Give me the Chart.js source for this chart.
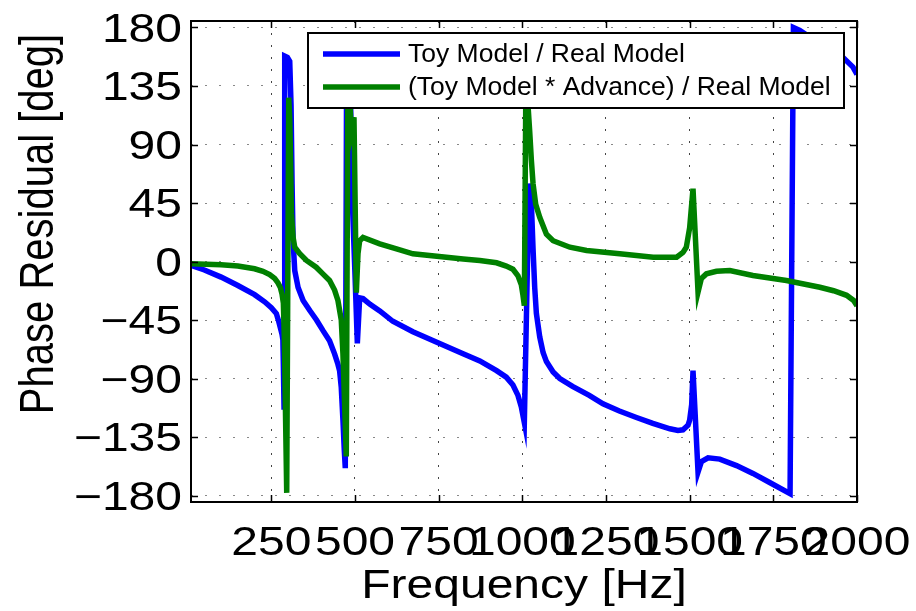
<!DOCTYPE html>
<html>
<head>
<meta charset="utf-8">
<script src="https://cdn.jsdelivr.net/npm/chart.js@4.4.0/dist/chart.umd.min.js"></script>
<style>
    html, body { margin: 0; padding: 0; background: #ffffff; }
    #wrap { width: 916px; height: 611px; }
</style>
</head>
<body>
<div id="wrap"><canvas id="phaseChart" width="916" height="611"></canvas></div>
<script>
// Phase residual curves
const toyFreq = [10, 50, 100, 150, 200, 230, 250, 265, 272, 278, 282, 284.5, 286, 288, 290, 298, 305, 309, 312, 315, 320,
    330, 345, 365, 385, 404, 424, 439, 449, 454, 459, 464, 468, 471, 475, 487, 492, 500, 507, 514, 524, 545, 574, 613,
    673, 753, 823, 873, 923, 952, 972, 987, 997, 1003, 1006, 1020, 1027, 1032, 1037, 1042, 1052, 1062, 1072, 1092, 1112,
    1150, 1200, 1241, 1290, 1341, 1390, 1441, 1465, 1480, 1495, 1500, 1506, 1510, 1525, 1535, 1555, 1590, 1640, 1689,
    1739, 1800, 1810, 1829, 1889, 1958, 1988, 2000];
const toyPhase = [-3, -6.5, -12, -18.5, -25.5, -31, -35.5, -40, -46, -52, -56, -60, -80, -112, 158, 157, 154, 120, 60, 16, -7,
    -20, -30, -37.7, -45, -53, -61, -71, -79, -84, -97, -122, -145, -159, 150, 120, 47, -10, -63, -28, -28.5, -33, -38, -46,
    -54, -63, -71, -76.5, -84, -89, -95, -103, -112, -120, -124, 60, 45, 10, -20, -40, -58, -70, -77, -85, -90,
    -96, -103, -109.5, -115, -120, -124.5, -128.7, -130, -129.5, -126, -122, -110, -84, -162, -154, -151, -152, -157, -163,
    -170, -178.5, 180, 177.7, 167.5, 157, 149.5, 144];

const advFreq = [10, 100, 150, 200, 225, 245, 260, 270, 277, 282, 286, 289, 296, 302, 305, 308, 310, 315, 320, 335, 355,
    384, 404, 424, 439, 449, 459, 464, 469, 474, 479, 489, 497, 504, 509, 514, 524, 574, 624, 673, 773, 823, 873, 923,
    952, 972, 987, 997, 1002, 1006, 1011, 1017, 1022, 1027, 1032, 1040, 1052, 1072, 1092, 1142, 1192, 1291, 1391, 1461,
    1480, 1490, 1500, 1510, 1525, 1535, 1550, 1580, 1620, 1689, 1789, 1889, 1930, 1969, 1990, 2000];
const advPhase = [-1.8, -2.5, -3.5, -5.6, -7.5, -10, -13, -16.5, -20, -25, -32, -60, -178, 126, 110, 70, 37, 18.7, 11, 6, 0.8,
    -4.4, -9.5, -14.6, -22, -30, -45, -71, -109.5, -150, 150, 100, 111, -24, 6, 16, 18.5, 13.6, 9.7, 5.9, 3.3, 2, 0.8, -1,
    -3.5, -6, -11, -18, -26, -34, 150, 120, 100, 78, 60, 44, 34, 21, 16, 11, 8.5, 6, 3.3, 3.3,
    7, 11, 26, 56, -23.6, -13, -9.5, -7.5, -7, -10.8, -14.6, -19.8, -22.5, -26, -30, -34];

const xTicks = [250, 500, 750, 1000, 1250, 1500, 1750, 2000];
const yTicks = [-180, -135, -90, -45, 0, 45, 90, 135, 180];
const seriesLabels = ['Toy Model / Real Model', '(Toy Model * Advance) / Real Model'];
const seriesColors = ['#0000ff', '#008000'];

const FONT = "'Liberation Sans', Arial, sans-serif";
const SX = 1.2; // the original text is a bit wider than it is tall

function toPoints(xs, ys) {
    return xs.map((x, i) => ({ x: x, y: ys[i] }));
}

function stretchedText(ctx, text, x, y, align) {
    ctx.save();
    ctx.translate(x, y);
    ctx.scale(SX, 1);
    ctx.textAlign = align;
    ctx.fillText(text, 0, 0);
    ctx.restore();
}

// axes box, inward ticks, tick labels, titles and the boxed legend
const matlabAxes = {
    id: 'matlabAxes',
    beforeDraw(chart) {
        const ctx = chart.ctx;
        ctx.save();
        ctx.fillStyle = '#ffffff';
        ctx.fillRect(0, 0, chart.width, chart.height);
        ctx.restore();
    },
    afterDraw(chart) {
        const ctx = chart.ctx;
        const a = chart.chartArea;
        const xs = chart.scales.x;
        const ys = chart.scales.y;

        ctx.save();
        ctx.strokeStyle = '#000000';
        ctx.lineWidth = 1.5;
        ctx.beginPath();
        xTicks.forEach(v => {
            const px = Math.round(xs.getPixelForValue(v)) + 0.5;
            ctx.moveTo(px, a.bottom); ctx.lineTo(px, a.bottom - 7);
            ctx.moveTo(px, a.top); ctx.lineTo(px, a.top + 7);
        });
        yTicks.forEach(v => {
            const py = Math.round(ys.getPixelForValue(v)) + 0.5;
            ctx.moveTo(a.left, py); ctx.lineTo(a.left + 7, py);
            ctx.moveTo(a.right, py); ctx.lineTo(a.right - 7, py);
        });
        ctx.stroke();
        ctx.lineWidth = 2;
        ctx.strokeRect(a.left, a.top, a.right - a.left, a.bottom - a.top);

        // tick labels
        ctx.fillStyle = '#000000';
        ctx.font = '40px ' + FONT;
        ctx.textBaseline = 'alphabetic';
        yTicks.forEach(v => {
            const label = String(v).replace('-', '\u2212');
            stretchedText(ctx, label, 182, ys.getPixelForValue(v) + 14, 'right');
        });
        xTicks.forEach(v => {
            stretchedText(ctx, String(v), xs.getPixelForValue(v), 555, 'center');
        });

        // axis titles
        stretchedText(ctx, 'Frequency [Hz]', (a.left + a.right) / 2, 598, 'center');
        ctx.save();
        ctx.translate(53, 224);
        ctx.scale(SX, 1);
        ctx.rotate(-Math.PI / 2);
        ctx.textAlign = 'center';
        ctx.fillText('Phase Residual [deg]', 0, 0);
        ctx.restore();

        // legend
        const box = { left: 308, top: 33, right: 844, bottom: 108 };
        ctx.fillStyle = '#ffffff';
        ctx.fillRect(box.left, box.top, box.right - box.left, box.bottom - box.top);
        ctx.strokeStyle = '#000000';
        ctx.lineWidth = 2;
        ctx.strokeRect(box.left, box.top, box.right - box.left, box.bottom - box.top);
        ctx.font = '26.5px ' + FONT;
        ctx.textAlign = 'left';
        ctx.textBaseline = 'middle';
        seriesLabels.forEach((label, i) => {
            const rowY = 54 + i * 33;
            ctx.strokeStyle = seriesColors[i];
            ctx.lineWidth = 5.5;
            ctx.beginPath();
            ctx.moveTo(323, rowY);
            ctx.lineTo(400, rowY);
            ctx.stroke();
            ctx.fillStyle = '#000000';
            ctx.fillText(label, 408, rowY + 1);
        });
        ctx.restore();
    }
};

const ctx = document.getElementById('phaseChart').getContext('2d');
new Chart(ctx, {
    type: 'line',
    data: {
        datasets: [{
            label: seriesLabels[0],
            data: toPoints(toyFreq, toyPhase),
            borderColor: seriesColors[0],
            borderWidth: 5.5,
            pointRadius: 0,
            tension: 0,
            order: 2
        }, {
            label: seriesLabels[1],
            data: toPoints(advFreq, advPhase),
            borderColor: seriesColors[1],
            borderWidth: 5.5,
            pointRadius: 0,
            tension: 0,
            order: 1
        }]
    },
    options: {
        responsive: false,
        animation: false,
        layout: { padding: { left: 0, top: 21, right: 59, bottom: 0 } },
        plugins: {
            legend: { display: false },
            tooltip: { enabled: false }
        },
        scales: {
            x: {
                type: 'linear',
                min: 10,
                max: 2000,
                afterFit: scale => { scale.height = 109; },
                afterBuildTicks: scale => { scale.ticks = xTicks.map(v => ({ value: v })); },
                ticks: { display: false },
                grid: { color: '#444444', lineWidth: 1, drawTicks: false },
                border: { display: false, dash: [2, 10] }
            },
            y: {
                type: 'linear',
                min: -185,
                max: 185,
                afterFit: scale => { scale.width = 191; },
                afterBuildTicks: scale => { scale.ticks = yTicks.map(v => ({ value: v })); },
                ticks: { display: false },
                grid: { color: '#888888', lineWidth: 1, drawTicks: false },
                border: { display: false, dash: [2, 12] }
            }
        }
    },
    plugins: [matlabAxes]
});
</script>
</body>
</html>
